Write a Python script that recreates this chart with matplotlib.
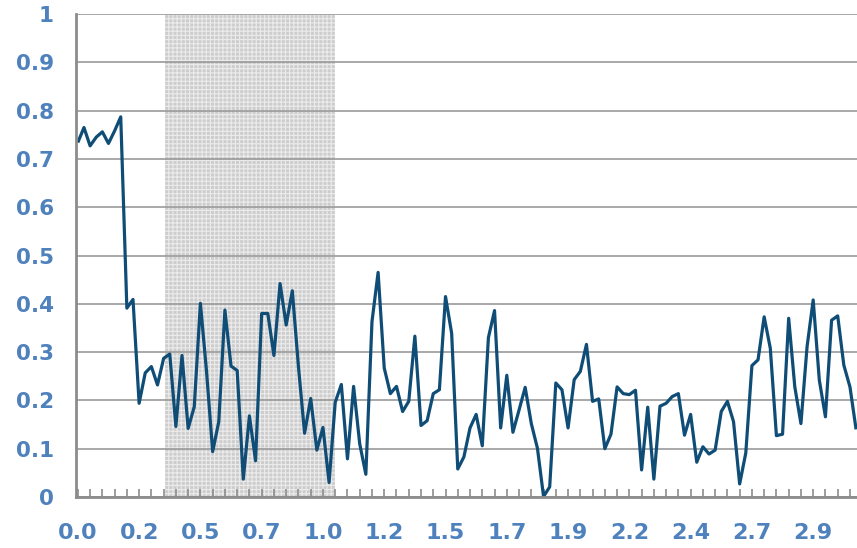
import numpy as np
import matplotlib
matplotlib.use("Agg")
import matplotlib.pyplot as plt

# ---- data -------------------------------------------------------------
values = [
    0.734, 0.765, 0.727, 0.745, 0.756, 0.732, 0.758, 0.787, 0.391, 0.409,
    0.194, 0.257, 0.270, 0.232, 0.287, 0.296, 0.146, 0.293, 0.142, 0.187,
    0.401, 0.260, 0.094, 0.156, 0.387, 0.271, 0.262, 0.037, 0.168, 0.075,
    0.380, 0.380, 0.293, 0.442, 0.356, 0.427, 0.270, 0.132, 0.204, 0.097,
    0.144, 0.030, 0.196, 0.233, 0.079, 0.229, 0.110, 0.047, 0.363, 0.465,
    0.267, 0.214, 0.229, 0.177, 0.198, 0.333, 0.148, 0.158, 0.214, 0.222,
    0.415, 0.339, 0.058, 0.083, 0.143, 0.171, 0.106, 0.330, 0.386, 0.143,
    0.252, 0.134, 0.180, 0.227, 0.152, 0.101, 0.001, 0.021, 0.236, 0.222,
    0.143, 0.243, 0.260, 0.316, 0.198, 0.203, 0.100, 0.130, 0.228, 0.214,
    0.212, 0.221, 0.056, 0.186, 0.037, 0.188, 0.194, 0.208, 0.214, 0.128,
    0.171, 0.072, 0.104, 0.089, 0.097, 0.177, 0.198, 0.156, 0.027, 0.091,
    0.272, 0.284, 0.373, 0.308, 0.127, 0.130, 0.370, 0.228, 0.152, 0.311,
    0.408, 0.242, 0.166, 0.366, 0.375, 0.273, 0.228, 0.140,
]
x_labels = ['0.0', '0.2', '0.5', '0.7', '1.0', '1.2', '1.5', '1.7', '1.9',
            '2.2', '2.4', '2.7', '2.9']
label_every = 10          # categories between labelled ticks
minor_every = 2           # categories between small ticks
shade_start, shade_end = 14.25, 42.0   # shaded band (category positions)
y_ticks = [0, 0.1, 0.2, 0.3, 0.4, 0.5, 0.6, 0.7, 0.8, 0.9, 1]
y_tick_labels = ['0', '0.1', '0.2', '0.3', '0.4', '0.5', '0.6', '0.7',
                 '0.8', '0.9', '1']

# ---- figure -----------------------------------------------------------
plt.rcParams['font.family'] = ['DejaVu Sans']
plt.rcParams['hatch.linewidth'] = 0.8

fig = plt.figure(figsize=(8.57, 5.48), dpi=100)
ax = fig.add_axes([76 / 857, (548 - 497) / 548, 1 - 76 / 857, (497 - 14) / 548])

x = np.arange(len(values))
ax.axvspan(shade_start, shade_end, facecolor='#cdcdcd', edgecolor='#ebebeb',
           hatch='++++', linewidth=0, zorder=0)

ax.plot(x, values, color='#0f4d77', linewidth=2.3, solid_joinstyle='round',
        solid_capstyle='butt', zorder=3)

ax.set_xlim(-0.3, 127.15)
ax.set_ylim(0, 1)

ax.set_yticks(y_ticks)
ax.set_yticklabels(y_tick_labels)
ax.yaxis.grid(True, color='#9a9a9a', linewidth=1.2, zorder=1)
ax.set_axisbelow(True)

major_pos = [i * label_every for i in range(len(x_labels))]
ax.set_xticks(major_pos)
ax.set_xticklabels(x_labels)
ax.set_xticks(np.arange(0, len(values), minor_every), minor=True)

lab_color = '#4f81bd'
ax.tick_params(axis='y', length=0, pad=16, labelsize=15.5,
               labelcolor=lab_color)
for t in ax.get_yticklabels():
    t.set_fontweight('bold')
ax.tick_params(axis='x', which='both', direction='in', length=6,
               width=1.2, color='#8c8c8c')
ax.tick_params(axis='x', which='major', pad=19, labelsize=16,
               labelcolor=lab_color)
for t in ax.get_xticklabels():
    t.set_fontweight('bold')

for s in ['top', 'right']:
    ax.spines[s].set_visible(False)
for s in ['left', 'bottom']:
    ax.spines[s].set_color('#8c8c8c')
    ax.spines[s].set_linewidth(2)
    ax.spines[s].set_zorder(4)

fig.savefig('out.png', dpi=100)
